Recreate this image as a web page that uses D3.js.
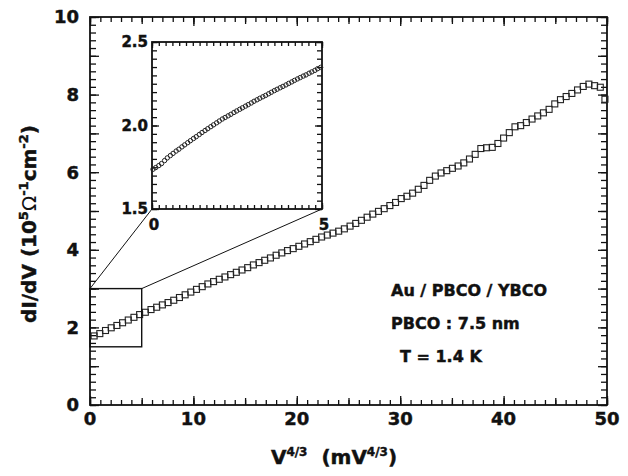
<!DOCTYPE html>
<html lang="en">
<head>
<meta charset="UTF-8">
<title>dI/dV vs V^4/3</title>
<script src="https://cdn.jsdelivr.net/npm/d3@7"></script>
<style>
  body { margin: 0; background: #fff; }
  text { font-family: "DejaVu Sans", sans-serif; font-weight: bold; fill: #111; stroke: #111; stroke-width: 0.45; }
</style>
</head>
<body>
<svg width="628" height="476"></svg>
<script>
// main curve
const mainX = [0.4, 0.95, 1.5, 2.05, 2.6, 3.15, 3.7, 4.25, 4.8, 5.35, 5.9, 6.45, 7.0, 7.55, 8.1, 8.65, 9.2, 9.75,
  10.3, 10.85, 11.4, 11.95, 12.5, 13.05, 13.6, 14.15, 14.7, 15.25, 15.8, 16.35, 16.9, 17.45, 18.0, 18.55, 19.1, 19.65,
  20.2, 20.75, 21.3, 21.85, 22.4, 22.95, 23.5, 24.05, 24.6, 25.15, 25.7, 26.25, 26.8, 27.35, 27.9, 28.45, 29.0, 29.55,
  30.1, 30.65, 31.2, 31.75, 32.3, 32.85, 33.4, 33.95, 34.5, 35.05, 35.6, 36.15, 36.7, 37.25, 37.8, 38.35, 38.9, 39.45,
  40.0, 40.55, 41.1, 41.65, 42.2, 42.75, 43.3, 43.85, 44.4, 44.95, 45.5, 46.05, 46.6, 47.15, 47.7, 48.25, 48.8, 49.35, 49.8]
const mainY = [1.78, 1.84, 1.92, 1.99, 2.05, 2.12, 2.19, 2.26, 2.33, 2.39, 2.46, 2.52, 2.58, 2.64, 2.70, 2.77, 2.84, 2.91,
  2.98, 3.05, 3.12, 3.18, 3.24, 3.30, 3.36, 3.42, 3.48, 3.54, 3.61, 3.67, 3.73, 3.79, 3.86, 3.92, 3.98, 4.03,
  4.09, 4.15, 4.21, 4.27, 4.33, 4.38, 4.43, 4.48, 4.54, 4.61, 4.68, 4.76, 4.84, 4.92, 4.99, 5.06, 5.14, 5.22,
  5.32, 5.38, 5.46, 5.56, 5.66, 5.79, 5.90, 5.98, 6.04, 6.10, 6.16, 6.24, 6.34, 6.46, 6.61, 6.63, 6.64, 6.74,
  6.88, 7.02, 7.17, 7.20, 7.28, 7.37, 7.45, 7.53, 7.62, 7.76, 7.87, 7.95, 8.03, 8.12, 8.21, 8.27, 8.23, 8.19, 7.88]

// inset (low bias part)
const insetX = [0.03, 0.11, 0.20, 0.28, 0.37, 0.45, 0.54, 0.62, 0.71, 0.79, 0.88, 0.96, 1.05, 1.13, 1.22, 1.30, 1.39, 1.47,
  1.56, 1.64, 1.73, 1.81, 1.90, 1.98, 2.07, 2.15, 2.24, 2.32, 2.41, 2.49, 2.58, 2.66, 2.75, 2.83, 2.92, 3.00,
  3.09, 3.17, 3.26, 3.34, 3.43, 3.51, 3.60, 3.68, 3.77, 3.85, 3.94, 4.02, 4.11, 4.19, 4.28, 4.36, 4.45, 4.53,
  4.62, 4.70, 4.79, 4.87, 4.96]
const insetY = [1.738, 1.748, 1.760, 1.772, 1.790, 1.806, 1.820, 1.833, 1.847, 1.858, 1.872, 1.884, 1.897, 1.909, 1.922, 1.933, 1.946, 1.958,
  1.970, 1.981, 1.993, 2.004, 2.016, 2.027, 2.039, 2.048, 2.058, 2.067, 2.078, 2.087, 2.097, 2.106, 2.116, 2.125, 2.135, 2.145,
  2.154, 2.163, 2.172, 2.180, 2.190, 2.199, 2.209, 2.217, 2.226, 2.234, 2.243, 2.252, 2.261, 2.270, 2.279, 2.287, 2.296, 2.303,
  2.313, 2.321, 2.330, 2.340, 2.348]

const xTicks = [0, 10, 20, 30, 40, 50]
const yTicks = [0, 2, 4, 6, 8, 10]
const insetXTicks = [0, 5]
const insetYTicks = [1.5, 2.0, 2.5]
const zoomX = [0, 5]
const zoomY = [1.5, 3]
const notes = ["Au / PBCO / YBCO", "PBCO : 7.5 nm", "T = 1.4 K"]

const svg = d3.select("svg")

const x = d3.scaleLinear().domain([0, 50]).range([90, 607])
const y = d3.scaleLinear().domain([0, 10]).range([405, 17])
const ix = d3.scaleLinear().domain([0, 5]).range([152, 322])
const iy = d3.scaleLinear().domain([1.5, 2.5]).range([209, 42])

// inward ticks on all four sides
function frameTicks(g, xs, ys, xSets, ySets) {
  const [x0, x1] = xs.range(), [y0, y1] = ys.range()
  xSets.forEach(([vals, len]) => {
    g.append("g").attr("transform", `translate(0,${y0})`)
      .call(d3.axisBottom(xs).tickValues(vals).tickSize(-len).tickFormat(""))
    g.append("g").attr("transform", `translate(0,${y1})`)
      .call(d3.axisTop(xs).tickValues(vals).tickSize(-len).tickFormat(""))
  })
  ySets.forEach(([vals, len]) => {
    g.append("g").attr("transform", `translate(${x0},0)`)
      .call(d3.axisLeft(ys).tickValues(vals).tickSize(-len).tickFormat(""))
    g.append("g").attr("transform", `translate(${x1},0)`)
      .call(d3.axisRight(ys).tickValues(vals).tickSize(-len).tickFormat(""))
  })
  g.selectAll(".domain").remove()
  g.selectAll(".tick line").attr("stroke", "#111").attr("stroke-width", 1.3)
  g.append("rect")
    .attr("x", x0).attr("y", y1).attr("width", x1 - x0).attr("height", y0 - y1)
    .attr("fill", "none").attr("stroke", "#111").attr("stroke-width", 1.8)
}

const main = svg.append("g")
frameTicks(main, x, y,
  [[d3.range(0, 50.01, 1), 5], [d3.range(0, 50.01, 5), 7], [xTicks, 9]],
  [[d3.range(0, 10.01, 0.2), 6], [d3.range(0, 10.01, 1), 9]])

main.selectAll(".xl").data(xTicks).join("text")
  .attr("x", d => x(d)).attr("y", 425)
  .attr("text-anchor", "middle").attr("font-size", 18)
  .text(d => d)
main.selectAll(".yl").data(yTicks).join("text")
  .attr("x", 79).attr("y", d => y(d)).attr("dy", "0.36em")
  .attr("text-anchor", "end").attr("font-size", 18)
  .text(d => d)

// axis titles
const xt = svg.append("text").attr("x", 334).attr("y", 464)
  .attr("text-anchor", "middle").attr("font-size", 20)
xt.append("tspan").text("V")
xt.append("tspan").attr("font-size", 12).attr("dy", -8).text("4/3")
xt.append("tspan").attr("dy", 8).text("\u00a0\u00a0(mV")
xt.append("tspan").attr("font-size", 12).attr("dy", -8).text("4/3")
xt.append("tspan").attr("dy", 8).text(")")

const yt = svg.append("text").attr("transform", "translate(36,224) rotate(-90)")
  .attr("text-anchor", "middle").attr("font-size", 20)
yt.append("tspan").text("dI/dV (10")
yt.append("tspan").attr("font-size", 13).attr("dy", -8).text("5")
yt.append("tspan").attr("dy", 8).attr("font-weight", "normal").attr("stroke-width", 0).text("\u03a9")
yt.append("tspan").attr("font-size", 13).attr("dy", -8).text("-1")
yt.append("tspan").attr("dy", 8).text("cm")
yt.append("tspan").attr("font-size", 13).attr("dy", -8).text("-2")
yt.append("tspan").attr("dy", 8).text(")")

// data squares
main.append("g").selectAll("rect").data(mainX).join("rect")
  .attr("x", (d, i) => x(d) - 3).attr("y", (d, i) => y(mainY[i]) - 3)
  .attr("width", 6).attr("height", 6)
  .attr("fill", "none").attr("stroke", "#222").attr("stroke-width", 1.1)

// zoom box and connectors
main.append("rect")
  .attr("x", x(zoomX[0])).attr("y", y(zoomY[1]))
  .attr("width", x(zoomX[1]) - x(zoomX[0])).attr("height", y(zoomY[0]) - y(zoomY[1]))
  .attr("fill", "none").attr("stroke", "#111").attr("stroke-width", 1.4)
main.append("line")
  .attr("x1", x(zoomX[0])).attr("y1", y(zoomY[1])).attr("x2", ix(zoomX[0])).attr("y2", iy(1.5))
  .attr("stroke", "#111").attr("stroke-width", 1)
main.append("line")
  .attr("x1", x(zoomX[1])).attr("y1", y(zoomY[1])).attr("x2", ix(zoomX[1])).attr("y2", iy(1.5))
  .attr("stroke", "#111").attr("stroke-width", 1)

// annotation
main.selectAll(".note").data(notes).join("text")
  .attr("x", (d, i) => i == 2 ? 400 : 391).attr("y", (d, i) => 296 + i * 33)
  .attr("font-size", 16).text(d => d)

// inset
const inset = svg.append("g")
inset.append("rect").attr("x", 152).attr("y", 42).attr("width", 170).attr("height", 167).attr("fill", "#fff")
frameTicks(inset, ix, iy,
  [[d3.range(0, 5.01, 0.2), 4], [insetXTicks, 6]],
  [[d3.range(1.5, 2.501, 0.05), 5], [insetYTicks, 7]])
inset.selectAll(".ixl").data(insetXTicks).join("text")
  .attr("x", d => ix(d) + 2).attr("y", 230)
  .attr("text-anchor", "middle").attr("font-size", 15)
  .text(d => d)
inset.selectAll(".iyl").data(insetYTicks).join("text")
  .attr("x", 148).attr("y", d => iy(d)).attr("dy", "0.36em")
  .attr("text-anchor", "end").attr("font-size", 15)
  .text(d => d.toFixed(1))
inset.append("g").selectAll("circle").data(insetX).join("circle")
  .attr("cx", d => ix(d)).attr("cy", (d, i) => iy(insetY[i]))
  .attr("r", 2.2)
  .attr("fill", "none").attr("stroke", "#222").attr("stroke-width", 1)
</script>
</body>
</html>
